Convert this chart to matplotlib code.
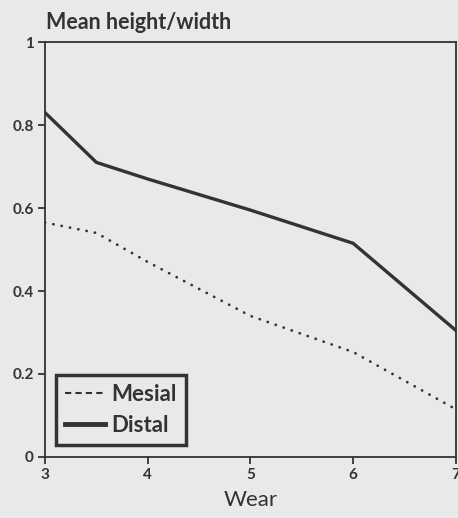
import matplotlib
matplotlib.use("Agg")
import matplotlib.pyplot as plt
from matplotlib.lines import Line2D

# values
wear = [3, 3.5, 4, 5, 6, 7]
mesial = [0.565, 0.54, 0.47, 0.34, 0.253, 0.115]
distal = [0.83, 0.71, 0.67, 0.595, 0.515, 0.305]
xticks = [3, 4, 5, 6, 7]
yticks = [0, 0.2, 0.4, 0.6, 0.8, 1]
ytick_labels = ["0", "0.2", "0.4", "0.6", "0.8", "1"]

ink = "#333333"
paper = "#e9e9e9"
plt.rcParams["font.family"] = ["Lato", "DejaVu Sans"]
plt.rcParams["font.weight"] = "bold"

fig = plt.figure(figsize=(4.58, 5.18), dpi=100, facecolor=paper)
ax = fig.add_axes([0.0983, 0.1178, 0.897, 0.801], facecolor=paper)

ax.plot(wear, mesial, color=ink, lw=2.0, linestyle=(0, (0.05, 3.0)), dash_capstyle="round")
ax.plot(wear, distal, color=ink, lw=2.4, solid_joinstyle="miter")

ax.set_xlim(3, 7)
ax.set_ylim(0, 1)
ax.set_xticks(xticks)
ax.set_xticklabels([str(t) for t in xticks])
ax.set_yticks(yticks)
ax.set_yticklabels(ytick_labels)
ax.tick_params(direction="out", length=5, width=1.3, colors=ink, labelsize=11, pad=3)
for s in ax.spines.values():
    s.set_color(ink)
    s.set_linewidth(1.3)

ax.set_xlabel("Wear", fontsize=16, color=ink, labelpad=6)
fig.text(46 / 458, 1 - 29 / 518, "Mean height/width", fontsize=15.5, color=ink,
         ha="left", va="baseline")

handles = [Line2D([], [], color=ink, lw=1.5, linestyle=(0, (3, 2))),
           Line2D([], [], color=ink, lw=3.5)]
leg = ax.legend(handles, ["Mesial", "Distal"], loc="lower left",
                bbox_to_anchor=(0.027, 0.03), fontsize=16, frameon=True,
                fancybox=False, handlelength=1.8, handletextpad=0.3,
                borderpad=0.4, labelspacing=0.45, borderaxespad=0)
leg.get_frame().set_edgecolor(ink)
leg.get_frame().set_linewidth(2.5)
leg.get_frame().set_facecolor(paper)
leg.get_frame().set_alpha(1)
for t in leg.get_texts():
    t.set_color(ink)

fig.savefig("out.png", dpi=100, facecolor=paper)
